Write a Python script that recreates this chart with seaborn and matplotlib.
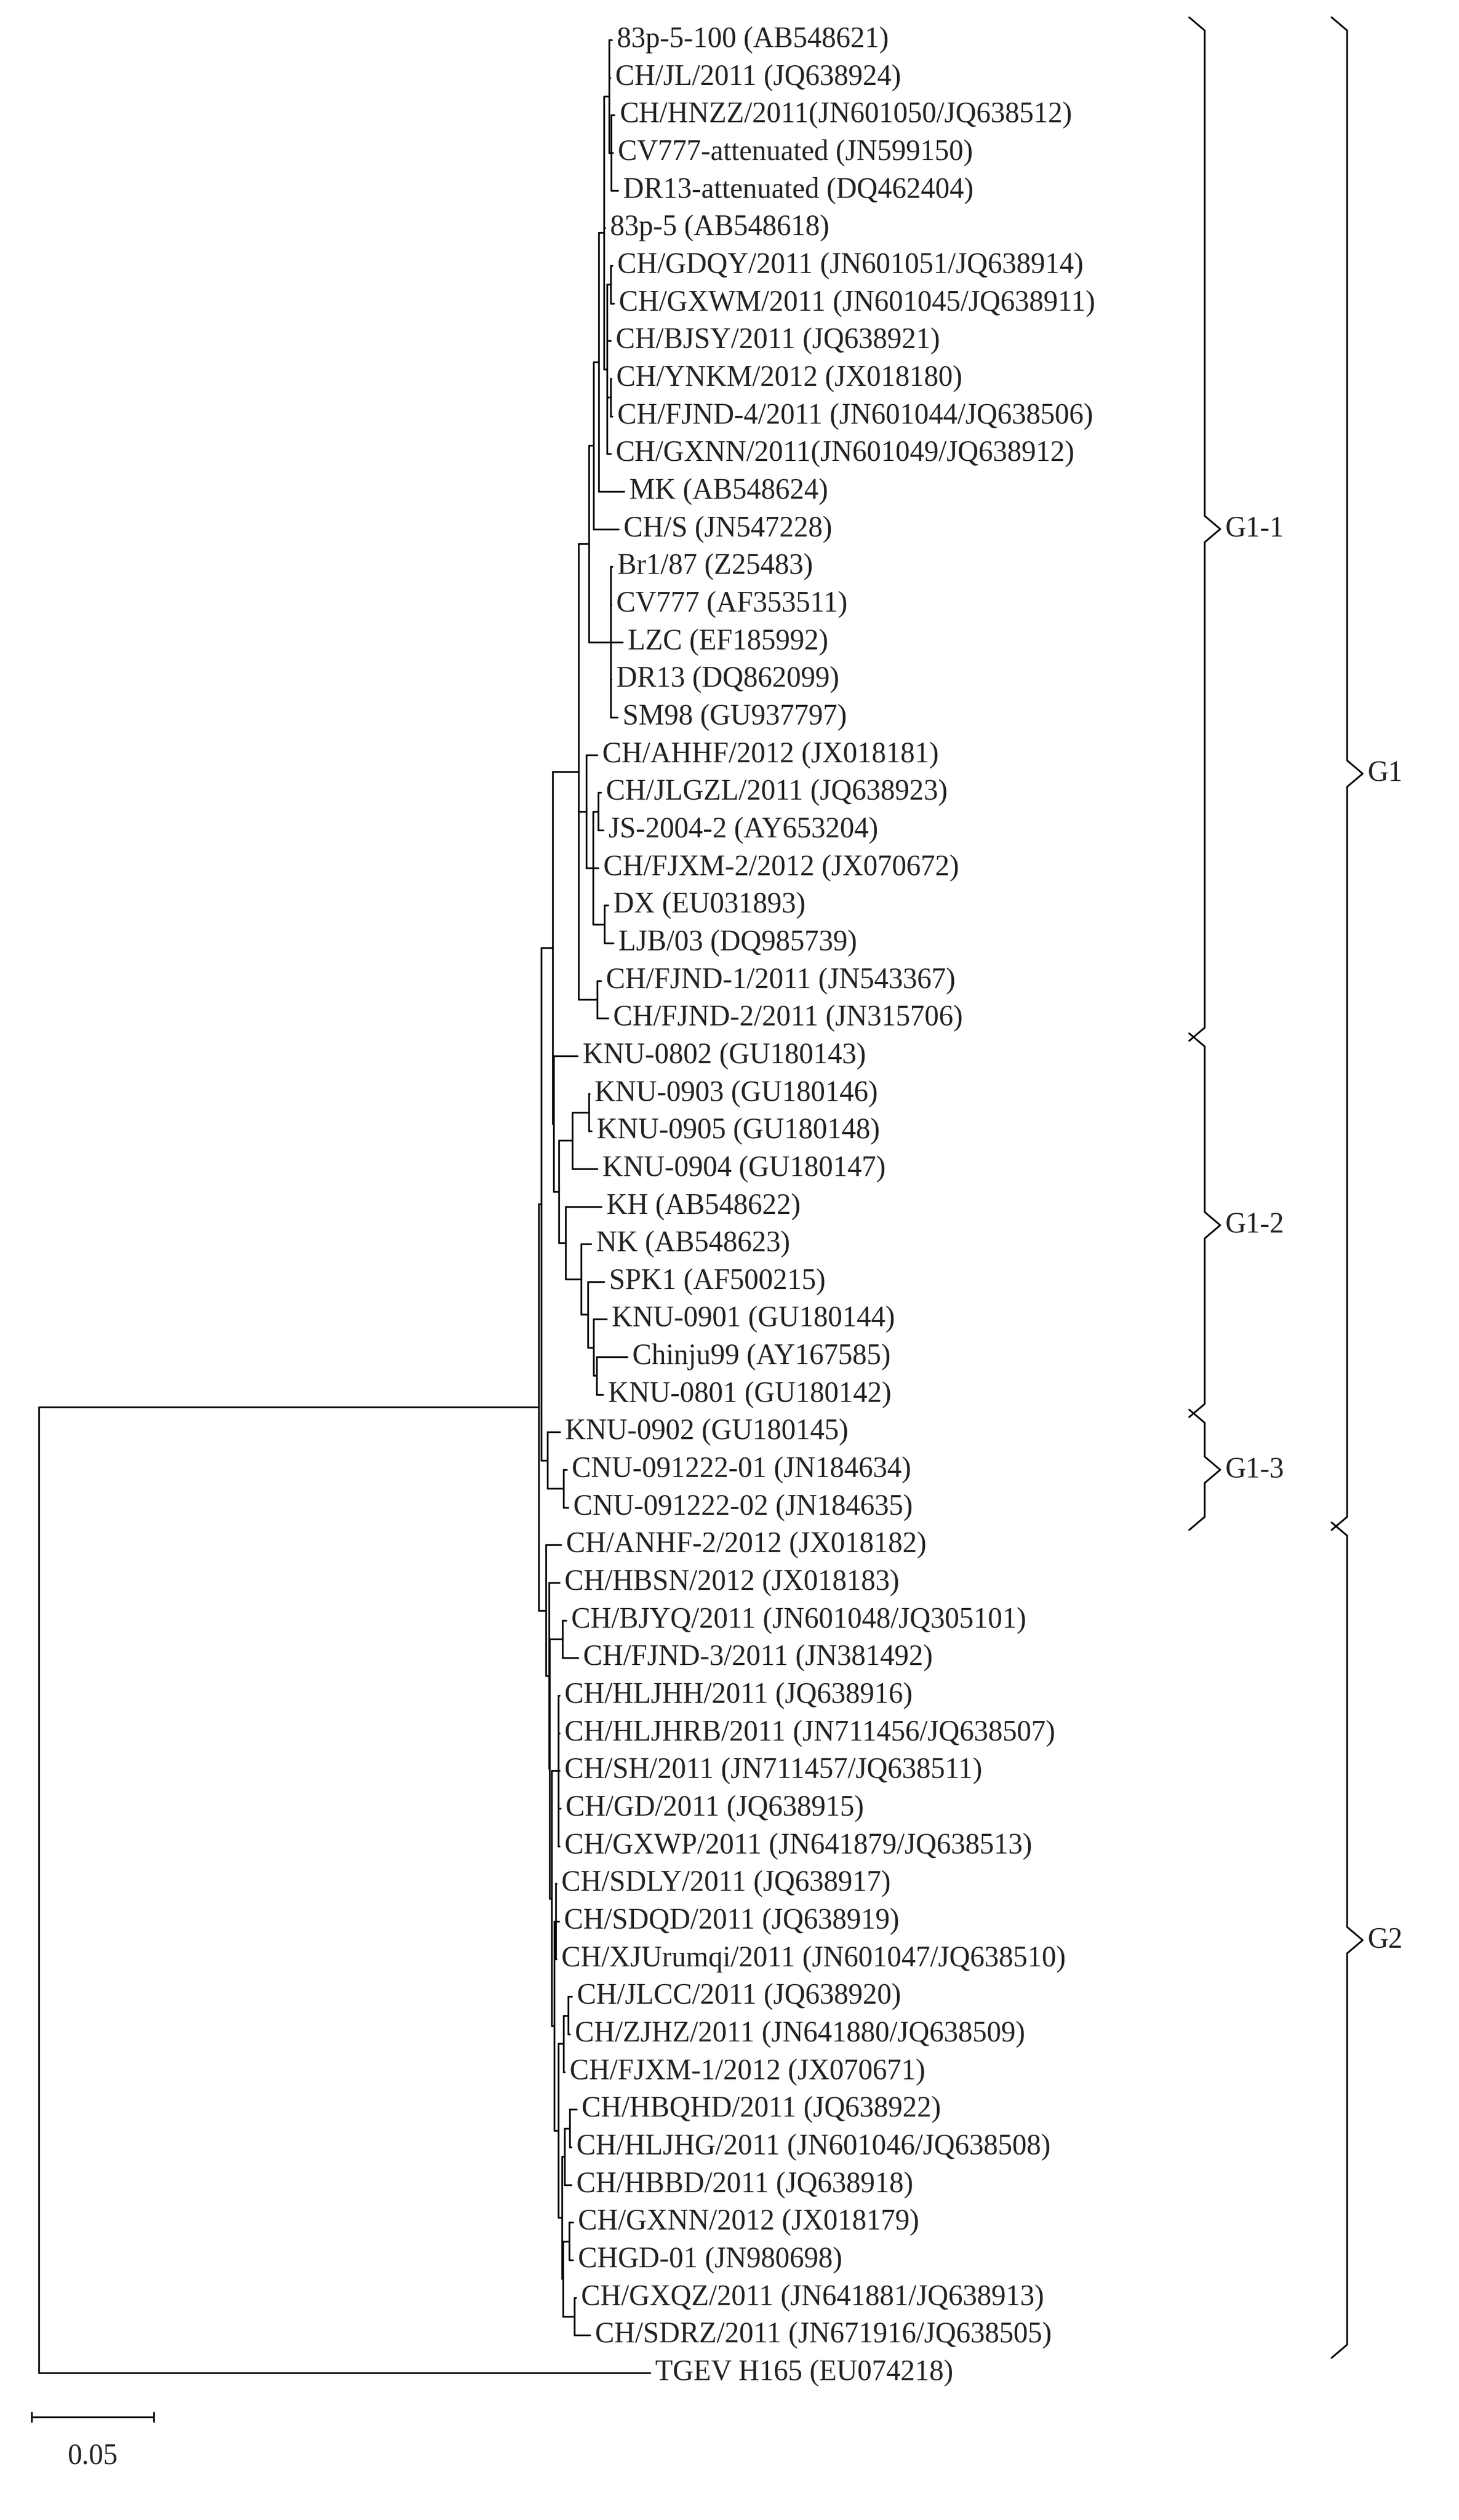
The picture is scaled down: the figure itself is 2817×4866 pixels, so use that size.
import matplotlib
matplotlib.use("Agg")
import matplotlib.pyplot as plt
import seaborn as sns
import pandas as pd

# ---- data: tree topology with branch lengths (substitutions/site) ----
K = 0.72  # ingroup branch lengths in relative units

def L(name, bl):
    return (name, bl * K)

def N(children, bl):
    return (children, bl * K)

g11 = N([
    N([
        N([
            N([
                N([
                    N([L("83p-5-100 (AB548621)", 0.0015), L("CH/JL/2011 (JQ638924)", 0.0005),
                       N([L("CH/HNZZ/2011(JN601050/JQ638512)", 0.002),
                          L("CV777-attenuated (JN599150)", 0.001),
                          L("DR13-attenuated (DQ462404)", 0.004)], 0.001)], 0.003),
                    L("83p-5 (AB548618)", 0.0005),
                    N([N([L("CH/GDQY/2011 (JN601051/JQ638914)", 0.001),
                          L("CH/GXWM/2011 (JN601045/JQ638911)", 0.002)], 0.002),
                       L("CH/BJSY/2011 (JQ638921)", 0.002),
                       N([L("CH/YNKM/2012 (JX018180)", 0.0005),
                          L("CH/FJND-4/2011 (JN601044/JQ638506)", 0.001)], 0.002),
                       L("CH/GXNN/2011(JN601049/JQ638912)", 0.002)], 0.0017)], 0.003),
                L("MK (AB548624)", 0.0144)], 0.0028),
            L("CH/S (JN547228)", 0.014)], 0.0028),
        N([L("Br1/87 (Z25483)", 0.001), L("CV777 (AF353511)", 0.0005),
           L("LZC (EF185992)", 0.0068), L("DR13 (DQ862099)", 0.0005),
           L("SM98 (GU937797)", 0.004)], 0.0123)], 0.0057),
    N([L("CH/AHHF/2012 (JX018181)", 0.0064),
       N([N([L("CH/JLGZL/2011 (JQ638923)", 0.0015), L("JS-2004-2 (AY653204)", 0.003)], 0.0028),
          L("CH/FJXM-2/2012 (JX070672)", 0.003),
          N([L("DX (EU031893)", 0.002), L("LJB/03 (DQ985739)", 0.005)], 0.0064)], 0.004)], 0.0042),
    N([L("CH/FJND-1/2011 (JN543367)", 0.002), L("CH/FJND-2/2011 (JN315706)", 0.006)], 0.0106),
], 0.0148)

g12 = N([
    L("KNU-0802 (GU180143)", 0.0136),
    N([
        N([N([L("KNU-0903 (GU180146)", 0.0005), L("KNU-0905 (GU180148)", 0.0015)], 0.0093),
           L("KNU-0904 (GU180147)", 0.0142)], 0.0076),
        N([L("KH (AB548622)", 0.0203),
           N([L("NK (AB548623)", 0.0057),
              N([L("SPK1 (AF500215)", 0.0091),
                 N([L("KNU-0901 (GU180144)", 0.0076),
                    N([L("Chinju99 (AY167585)", 0.0172), L("KNU-0801 (GU180142)", 0.0034)], 0.002)], 0.003)], 0.004)], 0.0089)], 0.0036)], 0.003)
], 0.0006)

g13 = N([L("KNU-0902 (GU180145)", 0.007),
         N([L("CNU-091222-01 (JN184634)", 0.0015), L("CNU-091222-02 (JN184635)", 0.0025)], 0.0093)], 0.0034)

g2 = N([
    L("CH/ANHF-2/2012 (JX018182)", 0.0087),
    N([L("CH/HBSN/2012 (JX018183)", 0.006),
       N([N([L("CH/BJYQ/2011 (JN601048/JQ305101)", 0.002), L("CH/FJND-3/2011 (JN381492)", 0.009)], 0.0072),
          N([N([L("CH/HLJHH/2011 (JQ638916)", 0.0005), L("CH/HLJHRB/2011 (JN711456/JQ638507)", 0.0005),
                L("CH/SH/2011 (JN711457/JQ638511)", 0.0005), L("CH/GD/2011 (JQ638915)", 0.001),
                L("CH/GXWP/2011 (JN641879/JQ638513)", 0.0005)], 0.004),
             N([N([L("CH/SDLY/2011 (JQ638917)", 0.0005), L("CH/SDQD/2011 (JQ638919)", 0.002),
                   L("CH/XJUrumqi/2011 (JN601047/JQ638510)", 0.0005)], 0.0006),
                N([N([N([L("CH/JLCC/2011 (JQ638920)", 0.002), L("CH/ZJHZ/2011 (JN641880/JQ638509)", 0.001)], 0.0025),
                      L("CH/FJXM-1/2012 (JX070671)", 0.0005)], 0.003),
                   N([N([N([L("CH/HBQHD/2011 (JQ638922)", 0.004), L("CH/HLJHG/2011 (JN601046/JQ638508)", 0.001)], 0.003),
                         L("CH/HBBD/2011 (JQ638918)", 0.004)], 0.0013),
                      N([N([L("CH/GXNN/2012 (JX018179)", 0.002), L("CHGD-01 (JN980698)", 0.002)], 0.0036),
                         N([L("CH/GXQZ/2011 (JN641881/JQ638913)", 0.001), L("CH/SDRZ/2011 (JN671916/JQ638505)", 0.009)], 0.0064)], 0.0006)], 0.002)], 0.0023)], 0.0017)], 0.001)], 0.0005)], 0.0017)
], 0.004)

tree = (
    [([([([g11, g12], 0.0064 * K), g13], 0.0015 * K), g2], 0.2045),
     ("TGEV H165 (EU074218)", 0.25)],
    0.0)

clade_names = ["G1-1", "G1-2", "G1-3", "G1", "G2"]
clade_first = ["83p-5-100 (AB548621)", "KNU-0802 (GU180143)", "KNU-0902 (GU180145)",
               "83p-5-100 (AB548621)", "CH/ANHF-2/2012 (JX018182)"]
clade_last = ["CH/FJND-2/2011 (JN315706)", "KNU-0801 (GU180142)", "CNU-091222-02 (JN184635)",
              "CNU-091222-02 (JN184635)", "CH/SDRZ/2011 (JN671916/JQ638505)"]
clade_col = [0, 0, 0, 1, 1]
scale_value = 0.05

# ---- layout ----
segs = []
leaves = []

def layout(node, x0):
    content, bl = node
    x1 = x0 + bl
    if isinstance(content, str):
        y = len(leaves)
        leaves.append((content, x1, y))
    else:
        ys = [layout(c, x1) for c in content]
        y = (ys[0] + ys[-1]) / 2
        segs.append([(x1, ys[0]), (x1, ys[-1])])
    segs.append([(x0, y), (x1, y)])
    return y

layout(tree, 0.0)
rows = []
for i, s in enumerate(segs):
    for (x, y) in s:
        rows.append({"x": x, "y": y, "seg": i})
df = pd.DataFrame(rows)

W, H, DPI = 2817, 4866, 100
px_per_unit = 4720.0
x_root_px = 75
top_px, bot_px = 77, 4582
step = (bot_px - top_px) / (len(leaves) - 1)

sns.set_theme(style="white")
plt.rcParams["font.family"] = ["Liberation Serif", "DejaVu Serif"]
fig = plt.figure(figsize=(W / DPI, H / DPI), dpi=DPI)
ax = fig.add_axes([0, 0, 1, 1])
ax.set_xlim(-x_root_px / px_per_unit, (W - x_root_px) / px_per_unit)
ax.set_ylim((H - top_px) / step, -top_px / step)
ax.axis("off")

sns.lineplot(data=df, x="x", y="y", units="seg", estimator=None, sort=False,
             color="black", lw=2.4, ax=ax, legend=False)

fs = 40
off = 10 / px_per_unit
for name, x, y in leaves:
    ax.text(x + off, y, name, fontsize=fs, va="center", ha="left", color="#222222")

# clade braces
idx = {n: y for n, x, y in leaves}
col_x = [2326 - x_root_px, 2601 - x_root_px]
hook = 30 / px_per_unit
hy = 0.35
for nm, a, b, c in zip(clade_names, clade_first, clade_last, clade_col):
    y0, y1 = idx[a] - 0.6, idx[b] + 0.6
    xm = col_x[c] / px_per_unit
    ym = (y0 + y1) / 2
    bx = [xm - hook, xm, xm, xm + hook, xm, xm, xm - hook]
    by = [y0, y0 + hy, ym - hy, ym, ym + hy, y1 - hy, y1]
    ax.plot(bx, by, color="black", lw=2.4)
    ax.text(xm + hook + 10 / px_per_unit, ym, nm, fontsize=fs, va="center", ha="left", color="#222222")

# scale bar
sb_x0 = (61 - x_root_px) / px_per_unit
sb_y = (4667 - top_px) / step
ax.plot([sb_x0, sb_x0 + scale_value], [sb_y, sb_y], color="black", lw=2.4)
ax.plot([sb_x0, sb_x0], [sb_y - 0.12, sb_y + 0.12], color="black", lw=2.4)
ax.plot([sb_x0 + scale_value] * 2, [sb_y - 0.12, sb_y + 0.12], color="black", lw=2.4)
ax.text(sb_x0 + scale_value / 2, (4743 - top_px) / step, f"{scale_value:.2f}",
        fontsize=fs, ha="center", va="center", color="#222222")

fig.savefig("out.png", dpi=DPI, facecolor="white")
